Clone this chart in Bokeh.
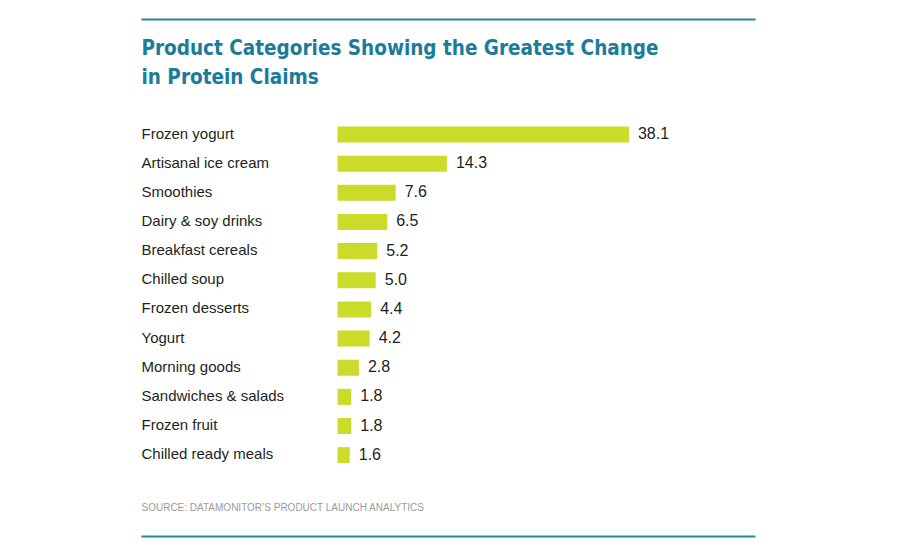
from bokeh.plotting import figure
from bokeh.models import Range1d, Label, BoxAnnotation, ColumnDataSource
from bokeh.core.properties import value
from bokeh.embed import file_html
from bokeh.resources import INLINE

# ---- data ----
categories = ["Frozen yogurt", "Artisanal ice cream", "Smoothies", "Dairy & soy drinks",
              "Breakfast cereals", "Chilled soup", "Frozen desserts", "Yogurt",
              "Morning goods", "Sandwiches & salads", "Frozen fruit", "Chilled ready meals"]
values = [38.1, 14.3, 7.6, 6.5, 5.2, 5.0, 4.4, 4.2, 2.8, 1.8, 1.8, 1.6]
value_labels = [f"{v:.1f}" for v in values]
title_lines = ["Product Categories Showing the Greatest Change", "in Protein Claims"]
source_text = "SOURCE: DATAMONITOR\u2019S PRODUCT LAUNCH ANALYTICS"

# ---- layout (pixels on the page) ----
W, H = 884, 542
MARGIN = 0
X0_PAGE = 337          # page x of value 0
KX = 7.65              # px per unit
Y0_PAGE = 134          # page y of first row centre
KY = 29.15             # px per row

def px2x(px):
    return (px - X0_PAGE) / KX

def py2y(py):
    return (py - Y0_PAGE) / KY

TEAL = "#1a7c99"
LINE_TEAL = "#2386a4"
BAR = "#cbdb2a"
TXT = "#231f20"
GREY = "#9b9b9b"
COND = "'DejaVu Sans Condensed', 'Liberation Sans Narrow', sans-serif"
SANS = "'Liberation Sans', Arial, sans-serif"

p = figure(width=W, height=H, output_backend="svg", toolbar_location=None,
           x_range=Range1d(px2x(MARGIN), px2x(MARGIN + W)),
           y_range=Range1d(py2y(MARGIN + H), py2y(MARGIN)),
           x_axis_location=None, y_axis_location=None, min_border=0)
p.grid.visible = False
p.outline_line_color = None
p.background_fill_color = "white"
p.border_fill_color = "white"

idx = list(range(len(categories)))
src = ColumnDataSource(dict(y=idx, v=values, cat=categories, lab=value_labels))

p.hbar(y="y", left=0, right="v", height=16 / KY, source=src,
       fill_color=BAR, line_color=None)

p.text(x=0, y="y", text="cat", source=src, x_offset=141 - X0_PAGE, y_offset=-1.5,
       text_align="left", text_baseline="middle", text_color=TXT,
       text_font=value(SANS), text_font_size="15px")

p.text(x="v", y="y", text="lab", source=src, x_offset=9, y_offset=-1.5,
       text_align="left", text_baseline="middle", text_color=TXT,
       text_font=value(SANS), text_font_size="16px")

# title
for line, base in zip(title_lines, [47, 76]):
    p.add_layout(Label(x=px2x(141), y=py2y(base), text=line, text_font=COND,
                       text_font_style="bold", text_font_size="20.5px",
                       text_color=TEAL, text_baseline="alphabetic", text_align="left"))

# source
p.add_layout(Label(x=px2x(141), y=py2y(507), text=source_text, text_font=SANS,
                   text_font_size="10px", text_color=GREY,
                   text_baseline="alphabetic", text_align="left"))

# rules
for top, bottom in [(18, 20), (535, 537)]:
    p.add_layout(BoxAnnotation(left=px2x(141), right=px2x(755),
                               top=py2y(top), bottom=py2y(bottom),
                               fill_color=LINE_TEAL, fill_alpha=1.0, line_color=None))

open("out.html", "w").write(file_html(p, INLINE))
